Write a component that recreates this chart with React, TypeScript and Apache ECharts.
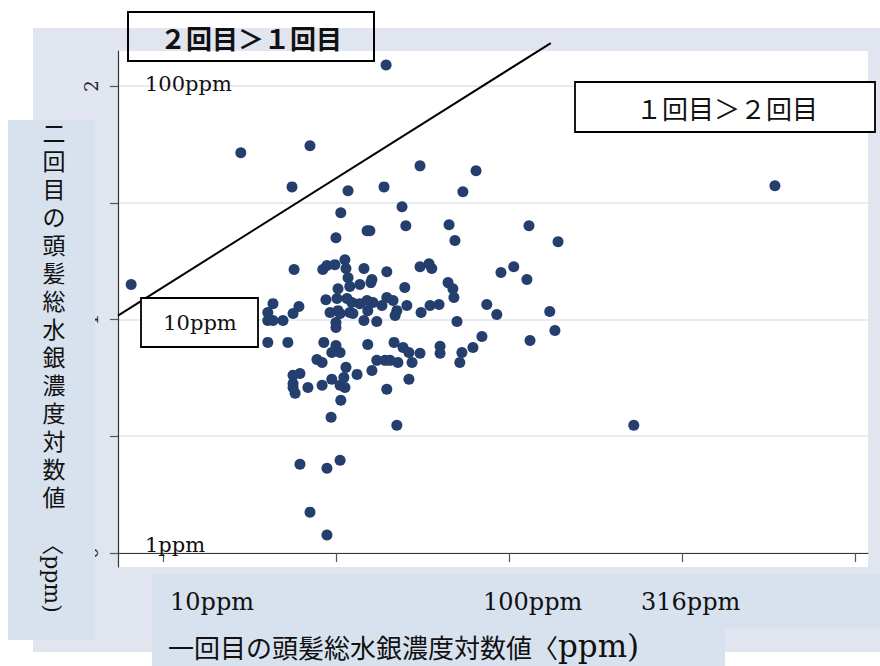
import React, { useEffect, useRef } from "react";
import * as echarts from "echarts";

// log10 of hair total mercury (ppm): first measurement (x) and second measurement (y)
const firstLog = [
  0.908, 1.225, 1.425, 1.645, 2.769, 2.361, 1.373, 1.535, 1.639, 1.743,
  1.905, 1.867, 1.691, 1.514, 1.59, 1.598, 1.702, 1.5, 1.827, 1.844,
  2.058, 2.142, 1.379, 1.462, 1.474, 1.497, 1.526, 1.529, 1.535, 1.581,
  1.604, 1.647, 1.743, 1.769, 1.777, 1.699, 1.506, 1.54, 1.569, 1.601,
  1.977, 2.014, 2.052, 1.824, 1.838, 1.841, 1.318, 1.393, 1.376, 1.303,
  1.303, 1.318, 1.347, 1.471, 1.503, 1.532, 1.546, 1.569, 1.59, 1.607,
  1.483, 1.506, 1.512, 1.54, 1.549, 1.5, 1.5, 1.581, 1.618, 1.592,
  1.633, 1.647, 1.665, 1.676, 1.671, 1.705, 1.746, 1.772, 1.798, 1.85,
  1.936, 1.965, 2.118, 2.133, 2.061, 1.922, 1.896, 1.864, 1.858, 1.801,
  1.801, 1.743, 1.694, 1.711, 1.72, 1.679, 1.711, 1.676, 1.303, 1.361,
  1.465, 1.5, 1.488, 1.512, 1.592, 1.668, 1.445, 1.46, 1.618, 1.642,
  1.656, 1.376, 1.396, 1.376, 1.376, 1.382, 1.419, 1.46, 1.488, 1.529,
  1.523, 1.512, 1.526, 1.561, 1.604, 1.647, 1.514, 1.486, 1.396, 1.474,
  1.512, 1.425, 1.474,
];
const secondLog = [
  1.15, 1.714, 1.744, 2.09, 1.573, 0.547, 1.568, 1.551, 1.568, 1.658,
  1.637, 1.547, 1.483, 1.457, 1.38, 1.38, 1.402, 1.35, 1.406, 1.338,
  1.402, 1.333, 1.214, 1.214, 1.231, 1.235, 1.256, 1.218, 1.179, 1.218,
  1.171, 1.205, 1.226, 1.239, 1.218, 1.137, 1.132, 1.141, 1.15, 1.158,
  1.201, 1.226, 1.171, 1.158, 1.132, 1.094, 1.068, 1.056, 1.026, 1.03,
  0.996, 0.996, 0.996, 1.085, 1.09, 1.09, 1.073, 1.068, 1.081, 1.073,
  1.03, 1.038, 1.026, 1.03, 1.026, 0.987, 0.966, 0.996, 0.991, 1.038,
  1.06, 1.094, 1.081, 1.038, 1.017, 1.06, 1.03, 1.06, 1.064, 0.991,
  1.064, 1.021, 1.034, 0.953, 0.91, 0.927, 0.88, 0.859, 0.816, 0.885,
  0.855, 0.855, 0.88, 0.859, 0.816, 0.816, 0.744, 0.547, 0.902, 0.902,
  0.902, 0.889, 0.859, 0.859, 0.893, 0.902, 0.829, 0.816, 0.825, 0.825,
  0.825, 0.761, 0.769, 0.726, 0.709, 0.684, 0.709, 0.718, 0.744, 0.795,
  0.752, 0.718, 0.709, 0.765, 0.782, 0.701, 0.654, 0.581, 0.38, 0.363,
  0.397, 0.175, 0.077,
];

// reference line drawn on the chart
const refLineX = [0.87, 2.121];
const refLineY = [1.017, 2.184];

const yTickValues = [0, 0.5, 1, 1.5, 2];
const yLabelValues = [0, 1, 2];
const xTickValues = [1, 1.5, 2, 2.5, 3];

const xTickTexts = ["10ppm", "100ppm", "316ppm"];
const yTitleMain = "二回目の頭髪総水銀濃度対数値";
const yTitleUnit = "〈ppm)";
const xTitleMain = "一回目の頭髪総水銀濃度対数値〈";
const xTitleUnit = "ppm)";

const SERIF = "'DejaVu Serif', 'Noto Sans CJK JP', serif";
const CJK = "'Noto Sans CJK JP', 'DejaVu Serif', sans-serif";

export default function App() {
  const ref = useRef<HTMLDivElement>(null);

  useEffect(() => {
    if (!ref.current) return;
    const chart = echarts.init(ref.current, undefined, { renderer: "svg" });
    const points = firstLog.map((x, i) => [x, secondLog[i]]);
    const line = refLineX.map((x, i) => [x, refLineY[i]]);
    const lavender = "#e1e5f0";
    const boxBlue = "#d8e2ef";

    chart.setOption({
      animation: false,
      backgroundColor: "#ffffff",
      grid: {
        left: 118,
        right: 12,
        top: 51,
        bottom: 99,
        show: true,
        backgroundColor: "#ffffff",
        borderWidth: 0,
      },
      xAxis: {
        type: "value",
        min: 0.87,
        max: 3.038,
        axisLine: { show: true, lineStyle: { color: "#333", width: 1.2 } },
        axisTick: {
          show: true,
          length: 9,
          customValues: xTickValues,
          lineStyle: { color: "#555", width: 1.2 },
        },
        axisLabel: { show: false },
        splitLine: { show: false },
      },
      yAxis: {
        type: "value",
        min: -0.06,
        max: 2.15,
        axisLine: { show: true, lineStyle: { color: "#333", width: 1.2 } },
        axisTick: {
          show: true,
          length: 8,
          customValues: yTickValues,
          lineStyle: { color: "#555", width: 1.2 },
        },
        axisLabel: {
          customValues: yLabelValues,
          rotate: 90,
          fontSize: 18,
          fontFamily: SERIF,
          color: "#222",
          margin: 18,
        },
        splitLine: { show: true, lineStyle: { color: "#e0e5f1", width: 1.5 } },
      },
      series: [
        {
          type: "scatter",
          data: points,
          symbol: "circle",
          symbolSize: 11,
          itemStyle: { color: "#243e6e", opacity: 1 },
          z: 3,
        },
        {
          type: "line",
          data: line,
          symbol: "none",
          clip: false,
          lineStyle: { color: "#000", width: 2 },
          z: 4,
        },
      ],
      graphic: [
        {
          type: "rect",
          z: -1,
          silent: true,
          shape: { x: 33, y: 28, width: 847, height: 624 },
          style: { fill: lavender },
        },
        {
          type: "rect",
          z: 10,
          silent: true,
          shape: { x: 8, y: 120, width: 87, height: 520 },
          style: { fill: boxBlue },
        },
        {
          type: "rect",
          z: 10,
          silent: true,
          shape: { x: 152, y: 575, width: 728, height: 53 },
          style: { fill: boxBlue },
        },
        {
          type: "rect",
          z: 10,
          silent: true,
          shape: { x: 152, y: 628, width: 573, height: 38 },
          style: { fill: boxBlue },
        },
        {
          type: "text",
          z: 11,
          x: 54,
          y: 118,
          style: {
            text: yTitleMain.split("").join("\n"),
            fontSize: 23,
            lineHeight: 28,
            fontFamily: CJK,
            fill: "#111",
            align: "center",
            verticalAlign: "top",
          },
        },
        {
          type: "text",
          z: 11,
          x: 52,
          y: 573,
          rotation: -Math.PI / 2,
          style: {
            text: yTitleUnit,
            fontSize: 22,
            fontFamily: SERIF,
            fill: "#111",
            align: "center",
            verticalAlign: "middle",
          },
        },
        {
          type: "text",
          z: 11,
          x: 168,
          y: 646,
          style: {
            text: "{a|" + xTitleMain + "}{b|" + xTitleUnit + "}",
            fill: "#111",
            align: "left",
            verticalAlign: "middle",
            rich: {
              a: { fontSize: 26, fontFamily: CJK, fill: "#111" },
              b: { fontSize: 31, fontFamily: SERIF, fill: "#111" },
            },
          },
        },
        ...[170, 483, 641].map((lx, i) => ({
          type: "text",
          z: 11,
          x: lx,
          y: 602,
          style: {
            text: xTickTexts[i],
            fontSize: 24,
            fontFamily: SERIF,
            fill: "#111",
            align: "left",
            verticalAlign: "middle",
          },
        })),
        {
          type: "text",
          z: 11,
          x: 145,
          y: 84,
          style: {
            text: "100ppm",
            fontSize: 21,
            fontFamily: SERIF,
            fill: "#111",
            align: "left",
            verticalAlign: "middle",
          },
        },
        {
          type: "text",
          z: 11,
          x: 145,
          y: 545,
          style: {
            text: "1ppm",
            fontSize: 21,
            fontFamily: SERIF,
            fill: "#111",
            align: "left",
            verticalAlign: "middle",
          },
        },
        {
          type: "rect",
          z: 10,
          shape: { x: 141, y: 298, width: 117, height: 49 },
          style: { fill: "#fff", stroke: "#000", lineWidth: 1.8 },
        },
        {
          type: "text",
          z: 11,
          x: 200,
          y: 323,
          style: {
            text: "10ppm",
            fontSize: 21,
            fontFamily: SERIF,
            fill: "#111",
            align: "center",
            verticalAlign: "middle",
          },
        },
        {
          type: "rect",
          z: 10,
          shape: { x: 128, y: 12, width: 246, height: 49 },
          style: { fill: "none", stroke: "#000", lineWidth: 2 },
        },
        {
          type: "text",
          z: 11,
          x: 251,
          y: 37,
          style: {
            text: "２回目＞１回目",
            fontSize: 26,
            fontWeight: "bold",
            fontFamily: CJK,
            fill: "#111",
            align: "center",
            verticalAlign: "middle",
          },
        },
        {
          type: "rect",
          z: 10,
          shape: { x: 575, y: 82, width: 300, height: 50 },
          style: { fill: "#fff", stroke: "#000", lineWidth: 1.8 },
        },
        {
          type: "text",
          z: 11,
          x: 727,
          y: 107,
          style: {
            text: "１回目＞２回目",
            fontSize: 26,
            fontFamily: CJK,
            fill: "#111",
            align: "center",
            verticalAlign: "middle",
          },
        },
      ],
    });

    return () => chart.dispose();
  }, []);

  return (
    <div
      style={{
        position: "absolute",
        left: 0,
        top: 0,
        width: 880,
        height: 666,
        background: "#fff",
      }}
    >
      <div ref={ref} style={{ width: 880, height: 666 }} />
    </div>
  );
}
